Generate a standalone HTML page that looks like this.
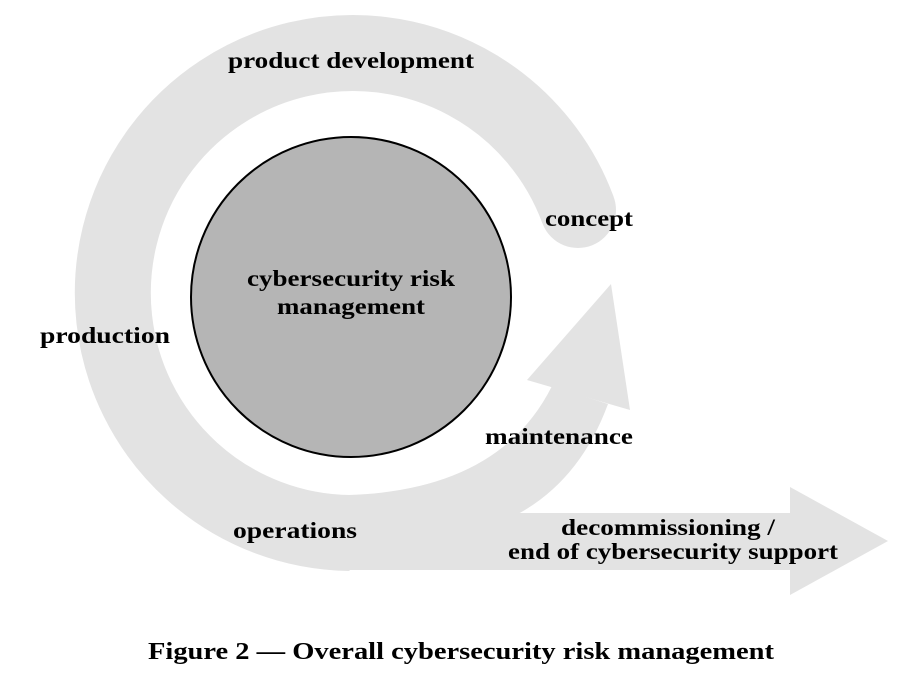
<!DOCTYPE html>
<html><head><meta charset="utf-8"><style>
html,body{margin:0;padding:0;background:#fff;}
svg{display:block;}
text{font-family:"Liberation Serif",serif;font-weight:bold;fill:#000;}
</style></head><body>
<svg width="914" height="686" viewBox="0 0 914 686" xmlns="http://www.w3.org/2000/svg">
<!-- ring -->
<path d="M 578 210 A 240 240 0 1 0 350 533" fill="none" stroke="#e3e3e3" stroke-width="76" stroke-linecap="butt"/>
<circle cx="578" cy="210" r="38" fill="#e3e3e3"/>
<!-- horizontal band -->
<rect x="345" y="513" width="447" height="57" fill="#e3e3e3"/>
<polygon points="790,487 888,541 790,595" fill="#e3e3e3"/>
<!-- maintenance arrow band -->
<path d="M 349 495 L 349 514 L 518 514 Q 580 480 608 404 L 552 386 Q 500 490 349 495 Z" fill="#e3e3e3"/>
<polygon points="527,380 611,284 630,410" fill="#e3e3e3"/>
<!-- center circle -->
<circle cx="351" cy="297" r="160" fill="#b5b5b5" stroke="#000" stroke-width="2"/>
<text x="351" y="68" text-anchor="middle" font-size="23" textLength="246" lengthAdjust="spacingAndGlyphs">product development</text>
<text x="545" y="226" font-size="23" textLength="88" lengthAdjust="spacingAndGlyphs">concept</text>
<text x="351" y="286" text-anchor="middle" font-size="23" textLength="208" lengthAdjust="spacingAndGlyphs">cybersecurity risk</text>
<text x="351" y="314" text-anchor="middle" font-size="23" textLength="148" lengthAdjust="spacingAndGlyphs">management</text>
<text x="40" y="343" font-size="23" textLength="130" lengthAdjust="spacingAndGlyphs">production</text>
<text x="485" y="444" font-size="23" textLength="148" lengthAdjust="spacingAndGlyphs">maintenance</text>
<text x="233" y="538" font-size="23" textLength="124" lengthAdjust="spacingAndGlyphs">operations</text>
<text x="668" y="535" text-anchor="middle" font-size="23" textLength="214" lengthAdjust="spacingAndGlyphs">decommissioning /</text>
<text x="508" y="559" font-size="23" textLength="330" lengthAdjust="spacingAndGlyphs">end of cybersecurity support</text>
<text x="148" y="659" font-size="24" textLength="626" lengthAdjust="spacingAndGlyphs">Figure 2 — Overall cybersecurity risk management</text>
</svg>
</body></html>
